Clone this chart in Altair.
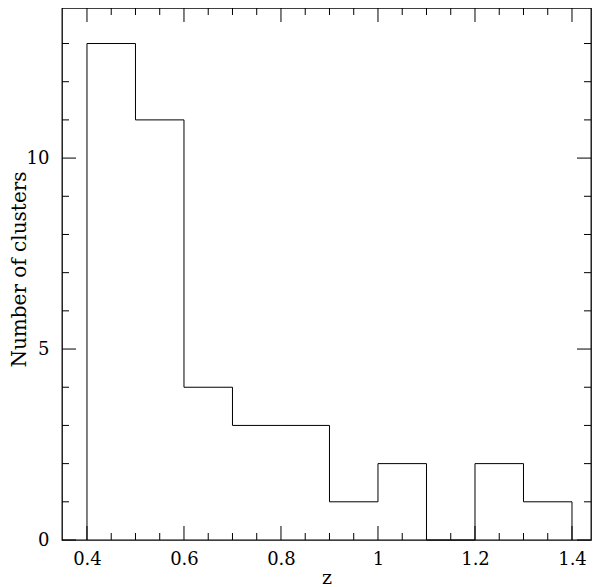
import altair as alt
import pandas as pd

# Histogram data (redshift bins and cluster counts)
bin_edges = [0.4, 0.5, 0.6, 0.7, 0.8, 0.9, 1.0, 1.1, 1.2, 1.3, 1.4]
counts = [13, 11, 4, 3, 3, 1, 2, 0, 2, 1]

# Axis tick values
x_major = [0.4, 0.6, 0.8, 1.0, 1.2, 1.4]
x_minor = [0.45, 0.5, 0.55, 0.65, 0.7, 0.75, 0.85, 0.9, 0.95, 1.05, 1.1, 1.15,
           1.25, 1.3, 1.35]
y_major = [0, 5, 10]
y_minor = [1, 2, 3, 4, 6, 7, 8, 9, 11, 12, 13]

W, H = 529, 532
FONT = "DejaVu Serif"
MAJ, MIN = 14, 7

# Step outline: start at (first edge, 0), go through counts, drop back to 0
step_x = [bin_edges[0]] + bin_edges
step_y = [0] + counts + [0]
step_df = pd.DataFrame({"x": step_x, "y": step_y, "i": list(range(len(step_x)))})

xs = alt.Scale(domain=[0.3485, 1.4392], nice=False, zero=False)
ys = alt.Scale(domain=[0, 13.93], nice=False, zero=False)

x_axis = alt.Axis(
    values=x_major, format="~g", ticks=False, tickSize=0, domain=False, grid=False,
    labelPadding=10, labelFont=FONT, labelFontSize=18, labelColor="black",
    title="z", titleFont=FONT, titleFontSize=19, titleFontWeight="normal",
    titleColor="black", titleBaseline="alphabetic", titlePadding=15)
y_axis = alt.Axis(
    values=y_major, ticks=False, tickSize=0, domain=False, grid=False,
    labelPadding=13, labelFont=FONT, labelFontSize=18, labelColor="black",
    title="Number of clusters", titleFont=FONT, titleFontSize=20,
    titleFontWeight="normal", titleColor="black", titleAngle=270,
    titleBaseline="alphabetic", titleAlign="center", titleX=-37, titleY=261)

line = alt.Chart(step_df).mark_line(
    interpolate="step-after", color="black", strokeWidth=1
).encode(
    x=alt.X("x:Q", scale=xs, axis=x_axis),
    y=alt.Y("y:Q", scale=ys, axis=y_axis),
    order="i:Q",
)


def xticks(vals, length):
    d = pd.DataFrame({"v": vals})
    base = alt.Chart(d).mark_rule(color="black", strokeWidth=1)
    bottom = base.encode(x=alt.X("v:Q", scale=xs, axis=x_axis),
                         y=alt.value(H), y2=alt.value(H - length))
    top = base.encode(x=alt.X("v:Q", scale=xs, axis=x_axis),
                      y=alt.value(0), y2=alt.value(length))
    return [bottom, top]


def yticks(vals, length):
    d = pd.DataFrame({"v": vals})
    base = alt.Chart(d).mark_rule(color="black", strokeWidth=1)
    left = base.encode(y=alt.Y("v:Q", scale=ys, axis=y_axis),
                       x=alt.value(0), x2=alt.value(length))
    right = base.encode(y=alt.Y("v:Q", scale=ys, axis=y_axis),
                        x=alt.value(W), x2=alt.value(W - length))
    return [left, right]


layers = [line] + xticks(x_major, MAJ) + xticks(x_minor, MIN) + \
    yticks(y_major, MAJ) + yticks(y_minor, MIN)

chart = alt.layer(*layers).properties(
    width=W, height=H,
    autosize=alt.AutoSizeParams(type="none"),
    padding={"left": 54, "top": 0, "right": 1, "bottom": 47},
).configure(background="white").configure_view(stroke="black", strokeWidth=1.3)

chart.save("out.html", embed_options={"renderer": "svg", "actions": False})
